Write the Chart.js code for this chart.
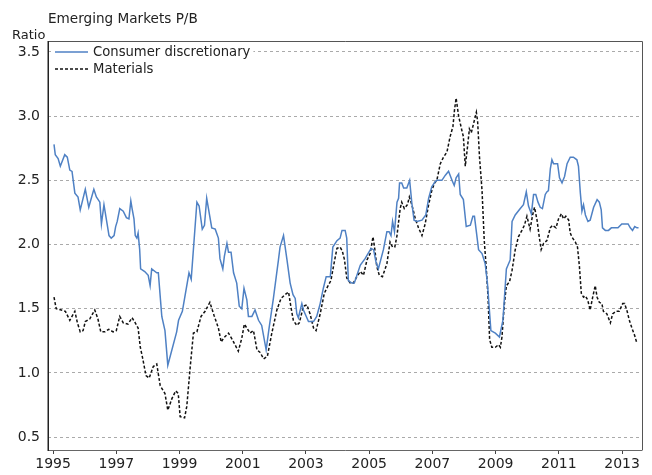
<!DOCTYPE html>
<html>
<head>
<meta charset="utf-8">
<script src="https://cdn.jsdelivr.net/npm/chart.js@4"></script>
<style>
  html, body { margin: 0; padding: 0; background: #fff; }
  #chart { display: block; }
</style>
</head>
<body>
<canvas id="chart" width="652" height="475"></canvas>
<script>
'use strict'

var chartTitle = 'Emerging Markets P/B';
var yUnit = 'Ratio';
var yearTicks = [1995, 1997, 1999, 2001, 2003, 2005, 2007, 2009, 2011, 2013];
var ratioTicks = [0.5, 1.0, 1.5, 2.0, 2.5, 3.0, 3.5];

// Consumer discretionary (decimal years / ratio)
var cdYears = [
  1995.03, 1995.07, 1995.16, 1995.23, 1995.37, 1995.45, 1995.53, 1995.60, 1995.69, 1995.79,
  1995.86, 1996.02, 1996.13, 1996.29, 1996.37, 1996.48, 1996.53, 1996.61, 1996.69, 1996.77,
  1996.84, 1996.93, 1996.98, 1997.03, 1997.11, 1997.22, 1997.32, 1997.40, 1997.46, 1997.50,
  1997.56, 1997.60, 1997.65, 1997.69, 1997.74, 1997.77, 1997.90, 1998.01, 1998.07, 1998.12,
  1998.28, 1998.33, 1998.44, 1998.54, 1998.63, 1998.91, 1998.97, 1999.09, 1999.30, 1999.37,
  1999.55, 1999.62, 1999.72, 1999.79, 1999.86, 2000.02, 2000.13, 2000.23, 2000.28, 2000.37,
  2000.42, 2000.50, 2000.55, 2000.63, 2000.71, 2000.81, 2000.89, 2000.97, 2001.04, 2001.13,
  2001.18, 2001.29, 2001.39, 2001.50, 2001.60, 2001.74, 2001.84, 2001.97, 2002.06, 2002.13,
  2002.18, 2002.29, 2002.40, 2002.50, 2002.59, 2002.66, 2002.71, 2002.76, 2002.87, 2002.92,
  2003.01, 2003.08, 2003.24, 2003.34, 2003.45, 2003.55, 2003.64, 2003.77, 2003.85, 2003.98,
  2004.08, 2004.14, 2004.24, 2004.29, 2004.34, 2004.45, 2004.53, 2004.72, 2004.87, 2005.06,
  2005.14, 2005.21, 2005.29, 2005.45, 2005.56, 2005.63, 2005.69, 2005.74, 2005.80, 2005.88,
  2005.93, 2005.96, 2006.03, 2006.09, 2006.19, 2006.28, 2006.35, 2006.42, 2006.51, 2006.67,
  2006.79, 2006.88, 2006.98, 2007.09, 2007.14, 2007.30, 2007.41, 2007.51, 2007.62, 2007.69,
  2007.75, 2007.83, 2007.88, 2007.98, 2008.07, 2008.20, 2008.28, 2008.33, 2008.39, 2008.46,
  2008.57, 2008.67, 2008.74, 2008.85, 2008.99, 2009.12, 2009.23, 2009.34, 2009.46, 2009.52,
  2009.62, 2009.78, 2009.88, 2009.97, 2010.04, 2010.13, 2010.20, 2010.27, 2010.34, 2010.41,
  2010.48, 2010.57, 2010.62, 2010.67, 2010.73, 2010.78, 2010.83, 2010.96, 2011.02, 2011.10,
  2011.18, 2011.26, 2011.36, 2011.46, 2011.57, 2011.62, 2011.68, 2011.73, 2011.78, 2011.84,
  2011.92, 2011.99, 2012.10, 2012.21, 2012.28, 2012.34, 2012.38, 2012.47, 2012.57, 2012.66,
  2012.76, 2012.87, 2012.99, 2013.10, 2013.19, 2013.26, 2013.33, 2013.40, 2013.47, 2013.52
];
var cdRatio = [
  2.78, 2.70, 2.67, 2.61, 2.70, 2.68, 2.58, 2.57, 2.40, 2.37,
  2.27, 2.43, 2.29, 2.43, 2.37, 2.33, 2.16, 2.31, 2.19, 2.07,
  2.05, 2.07, 2.14, 2.18, 2.28, 2.26, 2.21, 2.20, 2.34, 2.28,
  2.20, 2.07, 2.05, 2.09, 1.96, 1.81, 1.79, 1.76, 1.68, 1.81,
  1.78, 1.78, 1.44, 1.33, 1.06, 1.32, 1.41, 1.48, 1.78, 1.73,
  2.33, 2.30, 2.12, 2.15, 2.36, 2.13, 2.12, 2.05, 1.89, 1.81,
  1.91, 2.01, 1.94, 1.94, 1.78, 1.70, 1.52, 1.50, 1.66, 1.57,
  1.44, 1.44, 1.49, 1.41, 1.37, 1.18, 1.36, 1.58, 1.75, 1.88,
  1.98, 2.07, 1.88, 1.70, 1.61, 1.58, 1.46, 1.43, 1.54, 1.49,
  1.44, 1.40, 1.40, 1.44, 1.54, 1.66, 1.75, 1.75, 1.98, 2.03,
  2.05, 2.11, 2.11, 2.05, 1.72, 1.70, 1.70, 1.84, 1.89, 1.97,
  1.96, 1.87, 1.81, 1.96, 2.10, 2.10, 2.07, 2.18, 2.10, 2.33,
  2.36, 2.48, 2.48, 2.44, 2.44, 2.50, 2.32, 2.19, 2.18, 2.19,
  2.23, 2.36, 2.45, 2.49, 2.50, 2.50, 2.54, 2.57, 2.50, 2.46,
  2.52, 2.55, 2.39, 2.35, 2.14, 2.15, 2.22, 2.22, 2.10, 1.96,
  1.93, 1.85, 1.70, 1.33, 1.31, 1.28, 1.41, 1.81, 1.88, 2.18,
  2.23, 2.28, 2.31, 2.41, 2.30, 2.24, 2.39, 2.39, 2.33, 2.29,
  2.28, 2.39, 2.41, 2.42, 2.59, 2.66, 2.63, 2.63, 2.52, 2.48,
  2.53, 2.63, 2.68, 2.68, 2.66, 2.61, 2.40, 2.26, 2.31, 2.23,
  2.18, 2.19, 2.29, 2.35, 2.33, 2.27, 2.13, 2.11, 2.11, 2.13,
  2.13, 2.13, 2.16, 2.16, 2.16, 2.13, 2.11, 2.14, 2.13, 2.13
];

// Materials (decimal years / ratio)
var matYears = [
  1995.03, 1995.10, 1995.26, 1995.39, 1995.53, 1995.69, 1995.77, 1995.86, 1995.95, 1996.02,
  1996.16, 1996.32, 1996.42, 1996.51, 1996.64, 1996.76, 1996.90, 1997.00, 1997.11, 1997.22,
  1997.37, 1997.50, 1997.60, 1997.69, 1997.76, 1997.83, 1997.94, 1998.04, 1998.17, 1998.28,
  1998.39, 1998.54, 1998.63, 1998.76, 1998.88, 1998.96, 1999.02, 1999.16, 1999.23, 1999.34,
  1999.44, 1999.55, 1999.68, 1999.81, 1999.96, 2000.09, 2000.23, 2000.32, 2000.39, 2000.55,
  2000.67, 2000.86, 2000.97, 2001.05, 2001.13, 2001.23, 2001.34, 2001.45, 2001.55, 2001.66,
  2001.78, 2001.92, 2002.08, 2002.21, 2002.34, 2002.45, 2002.52, 2002.60, 2002.71, 2002.79,
  2002.92, 2003.03, 2003.13, 2003.24, 2003.32, 2003.45, 2003.58, 2003.68, 2003.79, 2003.87,
  2003.98, 2004.08, 2004.15, 2004.22, 2004.29, 2004.40, 2004.50, 2004.61, 2004.72, 2004.82,
  2004.93, 2005.03, 2005.12, 2005.17, 2005.24, 2005.32, 2005.42, 2005.56, 2005.66, 2005.74,
  2005.81, 2005.88, 2005.98, 2006.03, 2006.11, 2006.21, 2006.27, 2006.35, 2006.46, 2006.56,
  2006.67, 2006.77, 2006.88, 2006.98, 2007.07, 2007.14, 2007.25, 2007.35, 2007.46, 2007.56,
  2007.65, 2007.70, 2007.75, 2007.83, 2007.93, 2007.98, 2008.04, 2008.11, 2008.17, 2008.23,
  2008.30, 2008.39, 2008.43, 2008.49, 2008.57, 2008.64, 2008.70, 2008.76, 2008.81, 2008.88,
  2008.99, 2009.09, 2009.15, 2009.20, 2009.27, 2009.34, 2009.44, 2009.52, 2009.62, 2009.72,
  2009.83, 2009.91, 2009.99, 2010.09, 2010.17, 2010.23, 2010.31, 2010.38, 2010.44, 2010.52,
  2010.62, 2010.73, 2010.80, 2010.91, 2010.99, 2011.08, 2011.15, 2011.22, 2011.31, 2011.36,
  2011.41, 2011.52, 2011.59, 2011.65, 2011.71, 2011.78, 2011.84, 2011.91, 2011.99, 2012.07,
  2012.15, 2012.21, 2012.28, 2012.36, 2012.41, 2012.52, 2012.63, 2012.70, 2012.81, 2012.91,
  2013.02, 2013.08, 2013.16, 2013.23, 2013.31, 2013.40, 2013.47
];
var matRatio = [
  1.59, 1.50, 1.49, 1.48, 1.41, 1.48, 1.39, 1.32, 1.33, 1.40,
  1.42, 1.49, 1.42, 1.32, 1.32, 1.34, 1.32, 1.33, 1.44, 1.39,
  1.38, 1.43, 1.39, 1.35, 1.20, 1.12, 0.98, 0.96, 1.05, 1.07,
  0.90, 0.84, 0.71, 0.80, 0.86, 0.84, 0.66, 0.65, 0.74, 1.05,
  1.31, 1.32, 1.44, 1.48, 1.55, 1.45, 1.35, 1.24, 1.27, 1.31,
  1.26, 1.17, 1.27, 1.38, 1.35, 1.31, 1.33, 1.18, 1.16, 1.11,
  1.13, 1.31, 1.49, 1.58, 1.61, 1.63, 1.52, 1.41, 1.37, 1.39,
  1.52, 1.53, 1.46, 1.35, 1.33, 1.46, 1.62, 1.67, 1.72, 1.83,
  1.97, 1.98, 1.95, 1.88, 1.74, 1.70, 1.70, 1.75, 1.79, 1.76,
  1.88, 1.93, 2.06, 1.98, 1.83, 1.76, 1.75, 1.85, 2.02, 1.98,
  1.98, 2.07, 2.28, 2.33, 2.28, 2.31, 2.37, 2.31, 2.20, 2.13,
  2.07, 2.16, 2.31, 2.42, 2.48, 2.50, 2.63, 2.68, 2.72, 2.84,
  2.92, 3.05, 3.14, 3.00, 2.89, 2.84, 2.61, 2.76, 2.90, 2.87,
  2.94, 3.03, 2.96, 2.68, 2.42, 2.03, 1.83, 1.59, 1.26, 1.20,
  1.20, 1.22, 1.20, 1.28, 1.52, 1.68, 1.71, 1.80, 1.96, 2.06,
  2.11, 2.15, 2.22, 2.12, 2.23, 2.29, 2.19, 2.06, 1.96, 2.01,
  2.03, 2.13, 2.15, 2.13, 2.20, 2.24, 2.20, 2.22, 2.19, 2.09,
  2.06, 2.02, 1.98, 1.83, 1.62, 1.59, 1.60, 1.57, 1.49, 1.59,
  1.68, 1.59, 1.55, 1.54, 1.48, 1.46, 1.39, 1.46, 1.48, 1.48,
  1.54, 1.54, 1.48, 1.41, 1.35, 1.29, 1.23
];

var FONT = "'DejaVu Sans', Verdana, sans-serif";
var TEXT = '#222';

function toPoints(xs, ys) {
  var pts = [];
  for (let i = 0; i < xs.length; i++)
    pts.push({x: xs[i], y: ys[i]});
  return pts;
}

//------------- title, unit, frame and inside legend ------------- //
var decorPlugin = {
  id: 'decor',
  afterDraw: function(chart) {
    var c = chart.ctx;
    var a = chart.chartArea;
    c.save();
    c.fillStyle = TEXT;
    c.font = '13.6px ' + FONT;
    c.textBaseline = 'middle';
    c.textAlign = 'left';
    c.fillText(chartTitle, 48, 19);
    c.font = '13px ' + FONT;
    c.fillText(yUnit, 12, 36);

    // frame
    c.strokeStyle = '#555';
    c.lineWidth = 1;
    c.beginPath();
    c.moveTo(a.left, a.top + 0.5);
    c.lineTo(a.right + 0.5, a.top + 0.5);
    c.lineTo(a.right + 0.5, a.bottom);
    c.stroke();
    c.strokeStyle = '#666';
    c.beginPath();
    c.moveTo(a.left, a.bottom + 0.5);
    c.lineTo(a.right + 0.5, a.bottom + 0.5);
    c.stroke();
    c.strokeStyle = '#222';
    c.lineWidth = 1.5;
    c.beginPath();
    c.moveTo(a.left + 0.25, a.top);
    c.lineTo(a.left + 0.25, a.bottom + 1);
    c.stroke();

    // legend
    var sets = chart.data.datasets;
    c.font = '13.2px ' + FONT;
    for (let i = 0; i < sets.length; i++) {
      var y = 52 + i * 17;
      c.fillStyle = '#fff';
      c.fillRect(52, y - 8, c.measureText(sets[i].label).width + 44, 16);
      c.strokeStyle = sets[i].borderColor;
      c.lineWidth = 1.5;
      c.setLineDash(sets[i].borderDash || []);
      c.beginPath();
      c.moveTo(55, y);
      c.lineTo(88, y);
      c.stroke();
      c.setLineDash([]);
      c.fillStyle = TEXT;
      c.fillText(sets[i].label, 93, y + 1);
    }
    c.restore();
  }
};

var ctx = document.getElementById('chart').getContext('2d');

var myLineChart = new Chart(ctx, {
  type: 'line',
  data: {
    datasets: [{
      label: 'Consumer discretionary',
      data: toPoints(cdYears, cdRatio),
      borderColor: '#4f81c4',
      borderWidth: 1.5,
      pointRadius: 0,
      fill: false,
      tension: 0
    }, {
      label: 'Materials',
      data: toPoints(matYears, matRatio),
      borderColor: '#111',
      borderWidth: 1.5,
      borderDash: [3, 2],
      pointRadius: 0,
      fill: false,
      tension: 0
    }]
  },
  options: {
    responsive: false,
    animation: false,
    devicePixelRatio: 1,
    layout: { padding: { top: 41, right: 10, left: 0, bottom: 0 } },
    plugins: {
      legend: { display: false },
      tooltip: { enabled: false }
    },
    scales: {
      x: {
        type: 'linear',
        min: 1994.84,
        max: 2013.63,
        afterBuildTicks: function(scale) {
          scale.ticks = yearTicks.map(function(v) { return {value: v}; });
        },
        afterFit: function(scale) { scale.height = 25; },
        border: { display: false },
        grid: {
          drawOnChartArea: false,
          drawTicks: true,
          tickLength: 4,
          color: '#444'
        },
        ticks: {
          color: TEXT,
          font: { family: FONT, size: 14 },
          padding: 2,
          maxRotation: 0,
          autoSkip: false,
          callback: function(v) { return String(v); }
        }
      },
      y: {
        min: 0.4,
        max: 3.585,
        afterBuildTicks: function(scale) {
          scale.ticks = ratioTicks.map(function(v) { return {value: v}; });
        },
        afterFit: function(scale) { scale.width = 48; },
        border: { display: false, dash: [3, 3] },
        grid: {
          drawTicks: false,
          color: '#aaa',
          lineWidth: 1
        },
        ticks: {
          color: TEXT,
          font: { family: FONT, size: 14 },
          padding: 8,
          callback: function(v) { return v.toFixed(1); }
        }
      }
    }
  },
  plugins: [decorPlugin]
});
</script>
</body>
</html>
